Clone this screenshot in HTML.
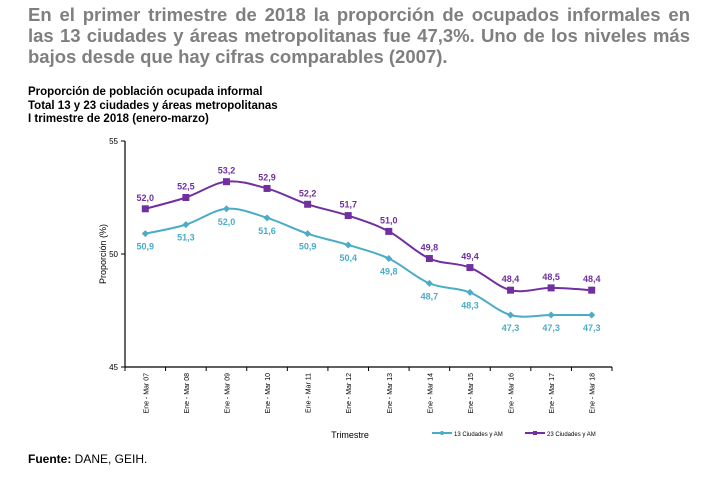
<!DOCTYPE html>
<html><head><meta charset="utf-8"><style>
body{margin:0;width:721px;height:481px;background:#fff;font-family:"Liberation Sans",Arial,sans-serif;position:relative;overflow:hidden}
.h{position:absolute;left:28px;width:662px;font-size:18.5px;font-weight:bold;color:#7f7f7f;line-height:21px;white-space:nowrap}
.j{text-align:justify;text-align-last:justify}
.st{position:absolute;left:28px;top:86px;font-size:11.5px;font-weight:bold;color:#000;line-height:13.5px}
.src{position:absolute;left:28px;top:452px;font-size:12px;color:#000}
svg{position:absolute;left:0;top:0}
</style></head><body>
<div>
<div class="h j" style="top:4px">En el primer trimestre de 2018 la proporción de ocupados informales en</div>
<div class="h j" style="top:25px">las 13 ciudades y áreas metropolitanas fue 47,3%. Uno de los niveles más</div>
<div class="h" style="top:46px">bajos desde que hay cifras comparables (2007).</div>
</div>
<div class="st">Proporción de población ocupada informal<br>Total 13 y 23 ciudades y áreas metropolitanas<br>I trimestre de 2018 (enero-marzo)</div>
<div class="src"><b>Fuente:</b> DANE, GEIH.</div>
<svg id="c" width="721" height="481"></svg>
<script>
const categories=["Ene - Mar 07","Ene - Mar 08","Ene - Mar 09","Ene - Mar 10","Ene - Mar 11","Ene - Mar 12","Ene - Mar 13","Ene - Mar 14","Ene - Mar 15","Ene - Mar 16","Ene - Mar 17","Ene - Mar 18"];
const series13=[50.9,51.3,52.0,51.6,50.9,50.4,49.8,48.7,48.3,47.3,47.3,47.3];
const series23=[52.0,52.5,53.2,52.9,52.2,51.7,51.0,49.8,49.4,48.4,48.5,48.4];
const yTicks=[45,50,55];
const NS="http://www.w3.org/2000/svg",svg=document.getElementById('c');
const X0=125,X1=612,Y0=367,Y1=141,bw=(X1-X0)/categories.length;
const x=i=>X0+bw*(i+0.5), y=v=>Y0-(v-45)/10*(Y0-Y1);
function mk(t,a,p){const e=document.createElementNS(NS,t);for(const k in a)e.setAttribute(k,a[k]);(p||svg).appendChild(e);return e;}
let e=mk('line',{x1:X0,y1:Y1,x2:X0,y2:Y0,stroke:'#000','stroke-width':1.2});

e=mk('line',{x1:X0,y1:Y0,x2:X1,y2:Y0,stroke:'#000','stroke-width':1.2});

yTicks.forEach(t=>{mk('line',{x1:X0-4,y1:y(t),x2:X0,y2:y(t),stroke:'#000'});
 e=mk('text',{x:X0-7,y:y(t)+3,'font-size':8,'text-anchor':'end',fill:'#000'});e.textContent=t;
 });
for(let i=0;i<=categories.length;i++)mk('line',{x1:X0+bw*i,y1:Y0,x2:X0+bw*i,y2:Y0+4,stroke:'#000'});
categories.forEach((c,i)=>{e=mk('text',{transform:`translate(${x(i)+3},${Y0+6}) rotate(-90)`,'font-size':7,'text-anchor':'end',fill:'#000'});e.textContent=c;
 });
e=mk('text',{transform:`translate(106,254) rotate(-90)`,'font-size':9,'text-anchor':'middle',fill:'#000'});e.textContent='Proporción (%)';

e=mk('text',{x:350,y:438,'font-size':9,'text-anchor':'middle',fill:'#000'});e.textContent='Trimestre';

function path(vals){const p=vals.map((v,i)=>[x(i),y(v)]);let d=`M${p[0][0]},${p[0][1]}`;
 for(let i=0;i<p.length-1;i++){const a=p[i-1]||p[i],b=p[i],c=p[i+1],n=p[i+2]||c;
 d+=` C${b[0]+(c[0]-a[0])/6},${b[1]+(c[1]-a[1])/6} ${c[0]-(n[0]-b[0])/6},${c[1]-(n[1]-b[1])/6} ${c[0]},${c[1]}`;}return d;}
function draw(vals,col,name,sq,above){
 e=mk('path',{d:path(vals),fill:'none',stroke:col,'stroke-width':2});
 
 vals.forEach((v,i)=>{
  if(sq)e=mk('rect',{x:x(i)-3.5,y:y(v)-3.5,width:7,height:7,fill:col});
  else e=mk('path',{d:`M${x(i)},${y(v)-3.5}L${x(i)+3.5},${y(v)}L${x(i)},${y(v)+3.5}L${x(i)-3.5},${y(v)}Z`,fill:col});
  
  e=mk('text',{x:x(i),y:above?y(v)-8:y(v)+16,'font-size':9,'font-weight':'bold','text-anchor':'middle',fill:col});
  e.textContent=v.toFixed(1).replace('.',',');
  });}
draw(series13,'#4bacc6','series-13',false,false);
draw(series23,'#7030a0','series-23',true,true);
function leg(x0,col,sq,label,name){const g=mk('g',{});
 
 mk('line',{x1:x0,y1:433,x2:x0+20,y2:433,stroke:col,'stroke-width':2},g);
 if(sq)mk('rect',{x:x0+8,y:431,width:4,height:4,fill:col},g);else mk('circle',{cx:x0+10,cy:433,r:2,fill:col},g);
 const t=mk('text',{x:x0+22,y:436,'font-size':6,fill:'#000'},g);t.textContent=label;}
leg(432,'#4bacc6',false,'13 Ciudades y AM','legend-13');
leg(525,'#7030a0',true,'23  Ciudades y AM','legend-23');
</script>
</body></html>
